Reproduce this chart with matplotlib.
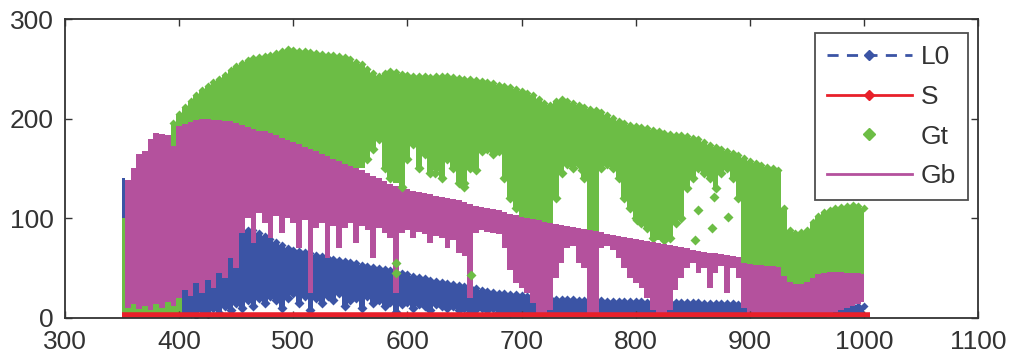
import numpy as np
import matplotlib
matplotlib.use("Agg")
import matplotlib.pyplot as plt
from matplotlib.lines import Line2D

plt.rcParams['font.family'] = ['Liberation Sans', 'DejaVu Sans']

# wavelength grid (nm), 5 nm steps from 350 to 1000
wl = np.arange(350, 1001, 5)

# Gb (magenta) upper / lower envelope
gb_hi = [12, 138, 150, 165, 168, 180, 186, 185, 184, 173,
         193, 195, 197, 199, 200, 200, 199, 199, 198, 198,
         196, 194, 192, 190, 188, 188, 186, 184, 181, 179,
         177, 175, 172, 170, 168, 165, 163, 160, 158, 155,
         153, 150, 148, 145, 142, 140, 137, 134, 132, 131,
         129, 127, 126, 125, 124, 122, 121, 120, 119, 118,
         116, 114, 112, 111, 110, 109, 108, 106, 104, 103,
         101, 100, 99, 98, 96, 95, 94, 93, 92, 91,
         90, 89, 88, 87, 86, 84, 83, 82, 81, 80,
         79, 78, 77, 76, 75, 74, 73, 72, 71, 70,
         68, 67, 66, 65, 65, 64, 63, 62, 61, 55,
         54, 53, 53, 52, 52, 51, 42, 36, 34, 34,
         36, 40, 44, 45, 46, 46, 46, 45, 45, 45, 44]
gb_lo = [12, 10, 14, 9, 12, 8, 14, 10, 16, 12,
         20, 28, 22, 35, 25, 38, 30, 45, 40, 60,
         50, 85, 100, 75, 105, 95, 80, 102, 85, 100,
         95, 70, 98, 25, 90, 95, 60, 92, 70, 90,
         95, 75, 92, 88, 60, 90, 85, 80, 25, 85,
         88, 80, 86, 84, 75, 82, 80, 70, 78, 65,
         62, 20, 85, 88, 86, 85, 84, 70, 48, 35,
         30, 25, 15, 5, 3, 8, 40, 55, 70, 72,
         55, 50, 0, 2, 70, 72, 68, 60, 50, 40,
         35, 30, 20, 8, 3, 2, 8, 28, 40, 50,
         55, 45, 50, 30, 45, 52, 25, 50, 40, 10,
         5, 3, 2, 1, 2, 3, 1, 0, 0, 0,
         0, 0, 1, 2, 4, 6, 8, 10, 12, 14, 16]

# Gt (green) upper / lower envelope
gt_hi = [100, 40, 40, 45, 45, 50, 55, 60, 65, 196,
         205, 212, 218, 224, 229, 233, 237, 240, 244, 249,
         253, 256, 259, 261, 262, 263, 264, 266, 268, 270,
         269, 268, 268, 267, 266, 265, 264, 264, 263, 262,
         260, 257, 255, 250, 246, 243, 246, 248, 247, 245,
         244, 243, 243, 243, 242, 243, 243, 243, 242, 241,
         240, 240, 239, 238, 237, 236, 234, 233, 232, 230,
         228, 226, 224, 220, 216, 214, 218, 220, 218, 216,
         214, 212, 210, 209, 207, 204, 201, 198, 196, 194,
         193, 192, 191, 189, 188, 186, 185, 184, 184, 183,
         181, 180, 177, 174, 172, 170, 168, 166, 164, 161,
         158, 156, 154, 152, 150, 148, 110, 88, 85, 86,
         88, 96, 102, 106, 108, 110, 111, 112, 113, 112, 110]
gt_lo = [0, 0, 0, 0, 0, 0, 0, 0, 0, 0,
         0, 185, 187, 189, 190, 190, 189, 189, 188, 188,
         186, 184, 182, 180, 178, 178, 176, 174, 171, 169,
         167, 165, 162, 160, 158, 155, 153, 150, 148, 145,
         143, 145, 150, 160, 170, 180, 150, 140, 135, 131,
         160, 175, 150, 165, 145, 150, 140, 160, 150, 135,
         131, 150, 148, 168, 170, 165, 168, 140, 120, 110,
         100, 98, 95, 92, 0, 90, 120, 145, 155, 150,
         155, 140, 0, 0, 150, 155, 150, 140, 120, 110,
         100, 95, 90, 80, 78, 78, 80, 95, 100, 130,
         140, 150, 145, 140, 130, 145, 150, 140, 120, 55,
         54, 53, 50, 52, 52, 51, 0, 0, 0, 0,
         0, 0, 0, 0, 46, 46, 46, 45, 45, 45, 44]

# single Gt points seen in the gaps
gt_dot_x = [590, 590, 595, 624, 650, 656, 674, 753, 801, 852, 855, 867, 869, 881]
gt_dot_y = [55, 45, 131, 145, 135, 43, 171, 148, 98, 78, 108, 90, 121, 101]

# L0 (blue) upper / lower envelope
l0_hi = [140, 135, 120, 100, 80, 60, 45, 35, 30, 28,
         30, 32, 36, 40, 45, 50, 55, 62, 70, 76,
         82, 85, 88, 88, 85, 82, 79, 76, 73, 70,
         68, 67, 66, 65, 63, 62, 60, 59, 58, 57,
         56, 55, 53, 52, 51, 50, 49, 48, 46, 45,
         44, 42, 41, 40, 38, 37, 36, 35, 34, 33,
         32, 31, 30, 28, 27, 26, 25, 25, 24, 24,
         23, 22, 21, 20, 20, 20, 19, 19, 19, 19,
         18, 18, 18, 18, 18, 17, 17, 17, 17, 17,
         17, 17, 16, 16, 16, 16, 16, 16, 16, 16,
         16, 16, 15, 15, 15, 15, 15, 15, 14, 14,
         14, 14, 14, 14, 14, 13, 13, 13, 13, 13,
         13, 13, 13, 12, 12, 12, 12, 12, 12, 12, 12]
l0_lo = [0, 0, 0, 0, 0, 0, 0, 0, 0, 0,
         0, 2, 5, 3, 8, 4, 10, 5, 12, 8,
         15, 10, 18, 12, 20, 15, 22, 18, 10, 20,
         25, 15, 22, 8, 20, 15, 22, 18, 25, 12,
         18, 20, 10, 22, 15, 18, 12, 16, 6, 14,
         16, 10, 14, 12, 8, 14, 12, 10, 12, 8,
         10, 6, 9, 10, 8, 10, 6, 8, 5, 7,
         2, 2, 2, 2, 2, 2, 2, 2, 2, 2,
         2, 2, 2, 2, 2, 2, 2, 2, 2, 2,
         2, 2, 2, 2, 2, 2, 2, 2, 2, 2,
         2, 2, 2, 2, 2, 2, 2, 2, 2, 2,
         2, 2, 2, 2, 2, 2, 2, 2, 2, 2,
         2, 2, 2, 2, 2, 2, 2, 2, 2, 2, 2]

# S (red), almost zero everywhere
s_wl = [350, 400, 450, 500, 550, 600, 650, 700, 750, 800, 850, 900, 950, 1005]
s_val = [2.5, 2.5, 2.5, 2.5, 2.5, 2.5, 2.5, 2.5, 2.5, 2.5, 2.5, 2.5, 2.5, 2.5]

c_blue = '#3b54a5'
c_red = '#e8202a'
c_green = '#6cbd45'
c_mag = '#b4519d'

fig = plt.figure(figsize=(10.1, 3.6), dpi=100)
ax = fig.add_axes([0.0644, 0.1167, 0.904, 0.8305])

gb_hi = np.array(gb_hi, float)
gb_lo = np.array(gb_lo, float)
gt_hi = np.array(gt_hi, float)
gt_lo = np.array(gt_lo, float)
l0_hi = np.array(l0_hi, float)
l0_lo = np.array(l0_lo, float)

# L0
ax.fill_between(wl, l0_lo, l0_hi, step='mid', color=c_blue, lw=0, zorder=1.0)
ax.plot(wl[9:], l0_hi[9:], 'D', ms=4, color=c_blue, mec='none', zorder=1.05)
m = l0_lo > 2
ax.plot(wl[m], l0_lo[m], 'D', ms=5, color=c_blue, mec='none', zorder=1.05)

# Gt
ax.fill_between(wl, gt_lo, gt_hi, step='mid', color=c_green, lw=0, zorder=1.2)
ax.plot(wl[9:], gt_hi[9:], 'D', ms=4.5, color=c_green, mec='none', zorder=1.25)
m = gt_lo > gb_hi + 3
ax.plot(wl[m], gt_lo[m], 'D', ms=5, color=c_green, mec='none', zorder=1.25)

# Gb
ax.fill_between(wl, gb_lo, gb_hi, step='mid', color=c_mag, lw=0, zorder=1.4)

ax.plot(gt_dot_x, gt_dot_y, 'D', ms=5, color=c_green, mec='none', ls='none', zorder=1.5)

# S
ax.plot(s_wl, s_val, '-', color=c_red, lw=4, clip_on=False,
        solid_capstyle='butt', zorder=3)

ax.set_xlim(300, 1100)
ax.set_ylim(0, 300)
ax.set_xticks(np.arange(300, 1101, 100))
ax.set_yticks([0, 100, 200, 300])
ax.tick_params(direction='in', top=True, right=True, length=5, width=1,
               labelsize=19, colors='#333333')
ax.tick_params(axis='x', pad=9)
ax.tick_params(axis='y', pad=8)
for sp in ax.spines.values():
    sp.set_linewidth(1.3)
    sp.set_color('#333333')
    sp.set_zorder(4)

handles = [
    Line2D([], [], color=c_blue, ls='--', dashes=(4, 3), lw=2, marker='D', ms=5),
    Line2D([], [], color=c_red, ls='-', lw=2, marker='D', ms=5),
    Line2D([], [], color=c_green, ls='none', marker='D', ms=6),
    Line2D([], [], color=c_mag, ls='-', lw=2),
]
leg = ax.legend(handles, ['L0', 'S', 'Gt', 'Gb'], loc='upper right',
                bbox_to_anchor=(0.989, 0.953), fontsize=19, frameon=True,
                fancybox=False, edgecolor='#222222', handlelength=3.2,
                handletextpad=0.35, labelspacing=0.6, borderpad=0.45,
                borderaxespad=0)
leg.get_frame().set_linewidth(1.3)
leg.set_zorder(5)
for t in leg.get_texts():
    t.set_color('#333333')

fig.savefig('out.png', dpi=100)
